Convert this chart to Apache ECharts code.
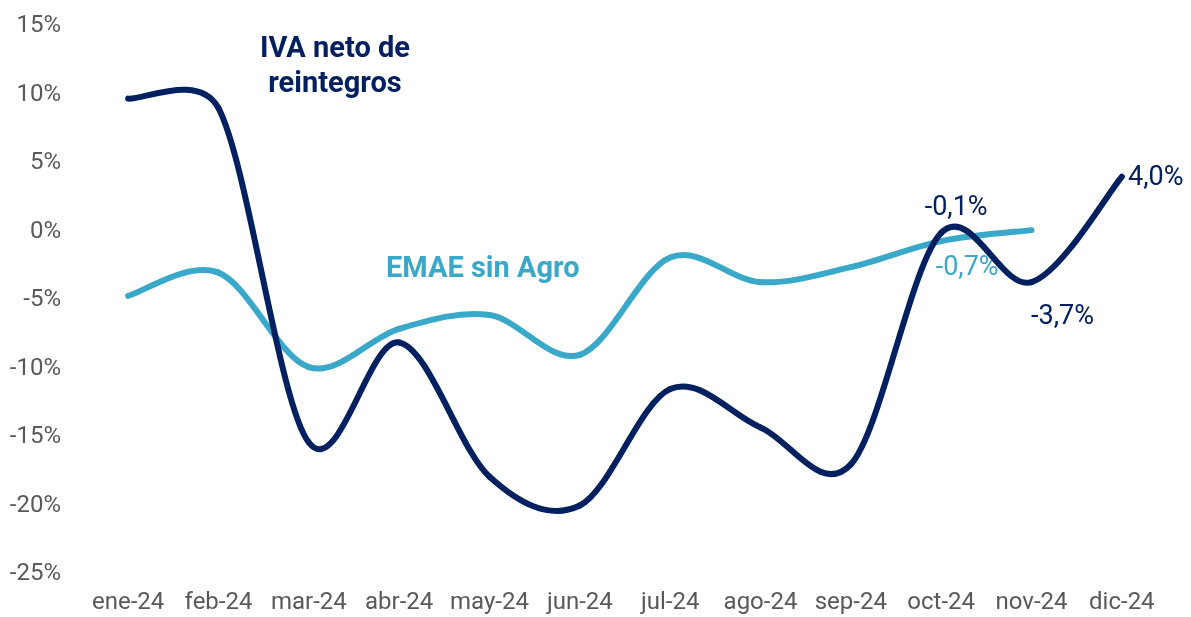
<!DOCTYPE html>
<html>
<head>
<meta charset="utf-8">
<script src="https://cdn.jsdelivr.net/npm/echarts@6/dist/echarts.min.js"></script>
<style>
html,body{margin:0;padding:0;background:#fff;}
#chart{width:1191px;height:617px;}
</style>
</head>
<body>
<div id="chart"></div>
<script>
const categories = ['ene-24','feb-24','mar-24','abr-24','may-24','jun-24','jul-24','ago-24','sep-24','oct-24','nov-24','dic-24'];
const ivaValues = [9.7, 9.0, -15.4, -8.1, -17.9, -20.0, -11.5, -14.3, -17.0, -0.1, -3.7, 4.0];
const emaeValues = [-4.7, -3.0, -9.9, -7.1, -6.1, -9.0, -1.9, -3.7, -2.6, -0.7, 0.1];
const yTicks = {min: -25, max: 15, interval: 5};
// indices of points that carry a value label, with label offsets (px) from the point
const ivaLabels = {9: [15, -25], 10: [31, 35], 11: [34, 2]};
const emaeLabels = {9: [26, 27]};

const NAVY = '#002060';
const TEAL = '#3AA8C8';
const fmt = v => (v.toFixed(1).replace('.', ',')) + '%';

function makeRenderer(values, labels, color) {
  const n = values.length;
  return function (params, api) {
    const i = params.dataIndex;
    const P = k => { const c = Math.max(0, Math.min(n - 1, k)); return api.coord([c, values[c]]); };
    const dist = (a, b) => Math.hypot(a[0] - b[0], a[1] - b[1]);
    // Catmull-Rom style arm, capped relative to the segment it belongs to
    function arm(k, dir, segLen) {
      const a = P(k - 1), b = P(k + 1);
      let tx = (b[0] - a[0]) / 6, ty = (b[1] - a[1]) / 6;
      const len = Math.hypot(tx, ty), cap = 0.45 * segLen;
      if (len > cap && len > 0) { tx *= cap / len; ty *= cap / len; }
      const p = P(k);
      return [p[0] + dir * tx, p[1] + dir * ty];
    }
    const children = [];
    if (i < n - 1) {
      const p1 = P(i), p2 = P(i + 1);
      const seg = dist(p1, p2);
      const c1 = arm(i, 1, seg), c2 = arm(i + 1, -1, seg);
      children.push({
        type: 'bezierCurve',
        shape: {x1: p1[0], y1: p1[1], x2: p2[0], y2: p2[1], cpx1: c1[0], cpy1: c1[1], cpx2: c2[0], cpy2: c2[1]},
        style: {stroke: color, lineWidth: 6, fill: null, lineCap: 'round'}
      });
    }
    if (labels[i]) {
      const p = P(i);
      children.push({
        type: 'text',
        x: p[0] + labels[i][0], y: p[1] + labels[i][1],
        style: {text: fmt(values[i]), fill: color, font: '27px Roboto', align: 'center', verticalAlign: 'middle'},
        z2: 10
      });
    }
    return {type: 'group', children: children};
  };
}

const chart = echarts.init(document.getElementById('chart'));
chart.setOption({
  animation: false,
  backgroundColor: '#fff',
  grid: {left: 83, right: 24, top: 26, bottom: 43},
  xAxis: {
    type: 'category',
    data: categories,
    boundaryGap: true,
    axisLine: {show: false},
    axisTick: {show: false},
    axisLabel: {color: '#595959', fontSize: 24, fontFamily: 'Roboto', margin: 17, interval: 0}
  },
  yAxis: {
    type: 'value',
    min: yTicks.min, max: yTicks.max, interval: yTicks.interval,
    splitLine: {show: false},
    axisLine: {show: false},
    axisTick: {show: false},
    axisLabel: {color: '#595959', fontSize: 24, fontFamily: 'Roboto', margin: 22, formatter: v => v + '%'}
  },
  series: [
    {
      name: 'EMAE sin Agro', type: 'custom',
      renderItem: makeRenderer(emaeValues, emaeLabels, TEAL),
      data: emaeValues.map((v, i) => [i, v]),
      encode: {x: 0, y: 1},
      z: 2
    },
    {
      name: 'IVA neto de reintegros', type: 'custom',
      renderItem: makeRenderer(ivaValues, ivaLabels, NAVY),
      data: ivaValues.map((v, i) => [i, v]),
      encode: {x: 0, y: 1},
      z: 3
    }
  ],
  graphic: [
    {type: 'text', left: 260, top: 32, style: {text: 'IVA neto de\nreintegros', fill: NAVY, font: 'bold 29px Roboto', lineHeight: 35, align: 'center', textAlign: 'center'}},
    {type: 'text', left: 386, top: 255, style: {text: 'EMAE sin Agro', fill: TEAL, font: 'bold 29px Roboto'}}
  ]
});
</script>
</body>
</html>
